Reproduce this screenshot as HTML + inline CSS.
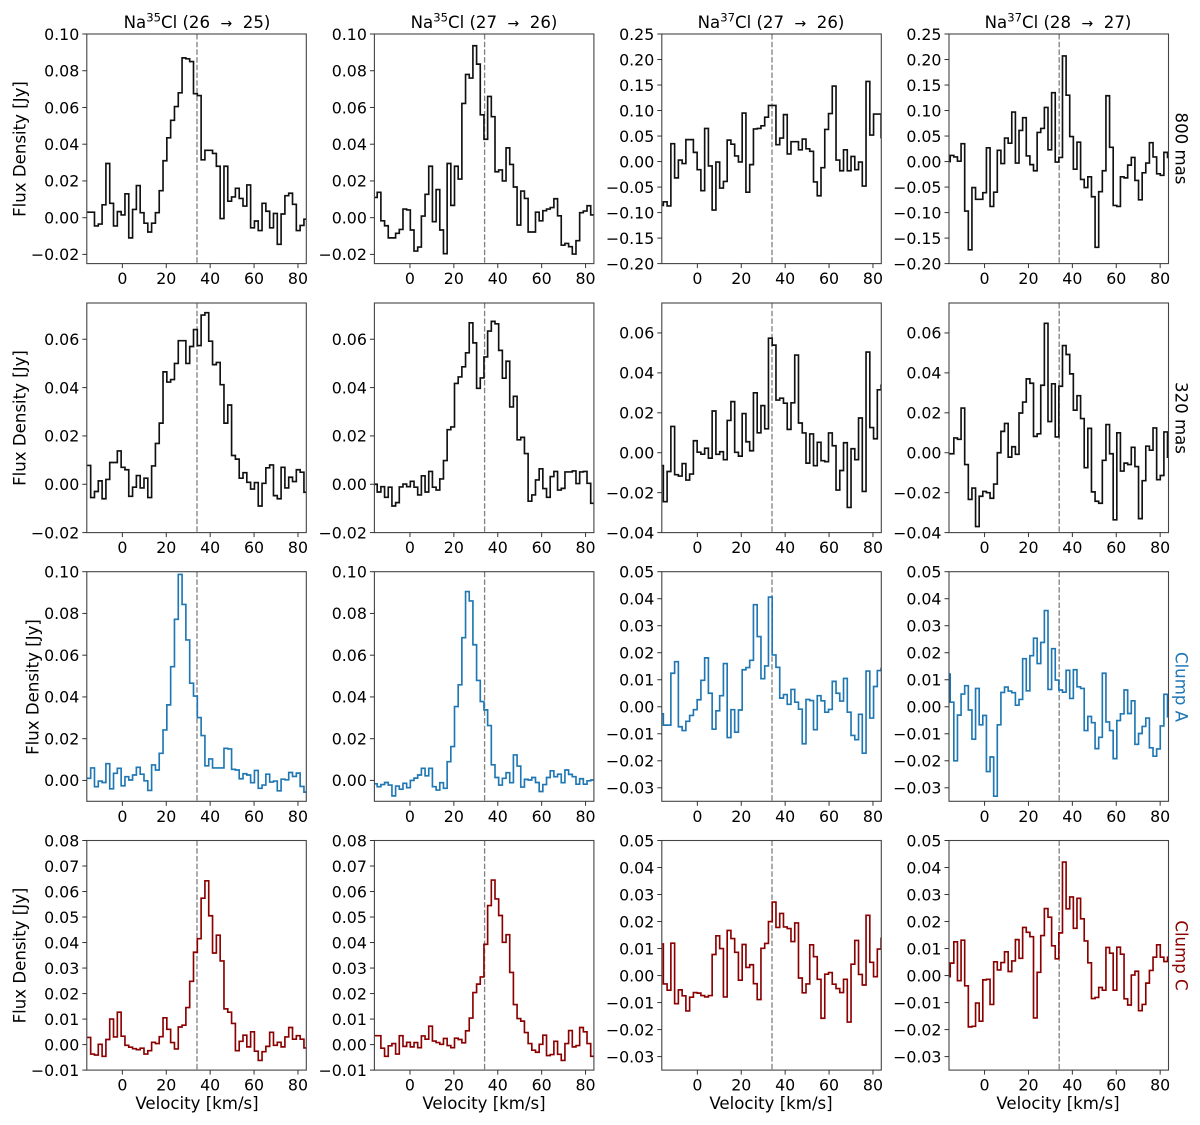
<!DOCTYPE html>
<html lang="en">
<head>
<meta charset="utf-8">
<title>NaCl line spectra</title>
<style>
html,body{margin:0;padding:0;background:#fff;}
svg{display:block;}
text{font-family:"DejaVu Sans","Liberation Sans",sans-serif;fill:#000;}
</style>
</head>
<body>
<svg id="chart" width="1200" height="1125" viewBox="0 0 1200 1125" xmlns="http://www.w3.org/2000/svg">
<rect x="0" y="0" width="1200" height="1125" fill="#fff"/>
<g id="panels"></g>
<g font-size="16.6" text-anchor="middle">
<text x="197" y="28">Na<tspan dy="-6.5" font-size="11.6">35</tspan><tspan dy="6.5">Cl (26</tspan><tspan font-size="14" dx="10.5">→</tspan><tspan dx="10.5">25)</tspan></text>
<text x="484" y="28">Na<tspan dy="-6.5" font-size="11.6">35</tspan><tspan dy="6.5">Cl (27</tspan><tspan font-size="14" dx="10.5">→</tspan><tspan dx="10.5">26)</tspan></text>
<text x="771" y="28">Na<tspan dy="-6.5" font-size="11.6">37</tspan><tspan dy="6.5">Cl (27</tspan><tspan font-size="14" dx="10.5">→</tspan><tspan dx="10.5">26)</tspan></text>
<text x="1058" y="28">Na<tspan dy="-6.5" font-size="11.6">37</tspan><tspan dy="6.5">Cl (28</tspan><tspan font-size="14" dx="10.5">→</tspan><tspan dx="10.5">27)</tspan></text>
</g>
<g font-size="16.6" text-anchor="middle">
<text transform="translate(25.5,149) rotate(-90)">Flux Density [Jy]</text>
<text transform="translate(25.5,418) rotate(-90)">Flux Density [Jy]</text>
<text transform="translate(38.5,687) rotate(-90)">Flux Density [Jy]</text>
<text transform="translate(25.5,955.5) rotate(-90)">Flux Density [Jy]</text>
</g>
<g font-size="16.6" text-anchor="middle">
<text x="197" y="1109">Velocity [km/s]</text>
<text x="484" y="1109">Velocity [km/s]</text>
<text x="771" y="1109">Velocity [km/s]</text>
<text x="1058" y="1109">Velocity [km/s]</text>
</g>
<g font-size="16.6" text-anchor="middle">
<text transform="translate(1175.5,148.5) rotate(90)">800 mas</text>
<text transform="translate(1175.5,418) rotate(90)">320 mas</text>
<text transform="translate(1175.5,687) rotate(90)" style="fill:#1f77b4">Clump A</text>
<text transform="translate(1175.5,955.5) rotate(90)" style="fill:#8b0000">Clump C</text>
</g>
</svg>
<script>
// Velocity channel grid per column (km/s)
const channelStart = [-16.17, -16.6, -17.2, -17.3];
const channelWidth = [1.735, 1.677, 1.71, 1.65];
const velocityTicks = [0, 20, 40, 60, 80];
const systemicVelocity = 34;
const velocityMin = -16.2;
const velocityMax = 83.8;

// Flux density per channel (Jy)
const fluxR1C1 = [.003,.003,-.0045,-.0035,.007,.0295,.0078,-.0045,.0033,.0015,.013,-.011,.0045,.0175,.0027,-.003,-.0078,-.003,.0027,.0147,.031,.0435,.053,.0605,.068,.087,.0865,.085,.0675,.0665,.0315,.0367,.0367,.035,.028,-.0005,.028,.009,.0113,.016,.0105,.0063,.0178,-.0055,-.0018,-.007,.0078,.0035,-.0055,.0023,-.0145,.002,.012,.0133,.0073,-.007,-.0042,-.0008];
const fluxR1C2 = [.011,.0138,-.0017,-.0044,-.011,-.011,-.0085,-.0064,.0047,.0042,-.0067,-.0182,-.016,.0009,.0127,.028,-.0022,.0153,-.0067,-.0196,.0295,.0067,.028,.021,.0622,.078,.076,.0936,.0836,.056,.0427,.066,.055,.025,.026,.02,.038,.029,.0167,-.004,.0145,.0105,-.0078,-.0078,.003,-.0017,.0038,.0047,.0055,.0103,.001,-.015,-.014,-.0158,-.0198,-.0125,.0027,.0036,.0065,.0015];
const fluxR1C3 = [-.086,-.079,-.087,.035,-.032,.003,-.004,.043,.043,.018,-.016,-.057,.065,-.0085,-.095,-.001,-.052,-.039,.042,.034,.011,-.0007,.095,-.06,-.006,.064,.065,.07,.087,.11,.11,.033,.046,.092,.015,.039,.039,.023,.044,.025,.02,-.04,-.067,-.012,.063,.094,.148,.003,-.018,.023,-.018,.01,-.016,-.001,-.048,.157,.052,.093,.093,.047];
const fluxR1C4 = [0,.012,.009,.0007,.035,-.097,-.173,-.051,-.074,-.074,-.061,.027,-.088,-.06,.022,-.004,.046,.036,.097,-.003,.061,.086,.011,-.006,-.018,.057,.065,.106,.023,.135,-.001,.008,.207,.13,.049,-.015,.038,-.035,-.051,-.03,-.069,-.168,-.059,-.018,.129,.028,-.086,-.088,-.03,-.032,-.007,.008,-.037,-.075,-.022,-.003,.037,.009,-.024,-.027,.018,.008];
const fluxR2C1 = [.0078,-.0055,-.003,.0014,-.006,.002,.009,.009,.0138,.007,.006,-.005,-.0012,.0036,-.0015,.0025,-.0055,.0076,.0169,.0253,.0465,.0423,.0433,.05,.0594,.0594,.05,.057,.064,.0574,.07,.071,.0592,.0495,.0504,.0412,.0253,.0328,.0119,.0104,.0025,.0048,.0008,-.002,.0007,-.009,.0004,.0068,.008,-.0047,-.006,.007,-.0015,.0029,.0011,.006,.005,-.0033];
const fluxR2C2 = [0,-.0032,-.001,-.0054,-.0012,-.009,-.0076,-.0011,.0001,-.001,.0012,-.0012,-.0044,.0035,-.0032,.0053,-.0012,-.0024,.0022,.0098,.0226,.0237,.0417,.0444,.0486,.0544,.0668,.0585,.0397,.044,.0527,.0634,.0674,.0664,.0554,.0439,.0509,.032,.0364,.0184,.0194,.0127,-.007,-.0044,.0018,.0064,-.0018,-.0054,.0032,.0053,-.0024,-.0017,.0051,.0051,.0055,.0003,.0051,.0053,.0004,-.0079,-.011];
const fluxR2C3 = [-.0064,-.0245,-.0094,.0132,-.011,-.0117,-.0054,-.0137,-.0107,.006,.0003,-.0007,.0023,-.0027,.0209,-.0008,.0005,-.0035,.0162,.0256,.0002,-.0017,.0196,.0055,.001,.03,.01,.0236,.012,.0574,.0539,.0264,.0273,.0248,.0117,.025,.0489,.0149,.0099,-.0052,.0094,-.0065,.0052,-.004,-.0045,.0099,.0035,-.0187,-.0089,.005,-.0274,.002,-.0035,.0174,-.0194,.0504,.0126,.007,.0315,.0338];
const fluxR2C4 = [-.0005,-.0005,.0074,.0067,.0224,-.0059,-.0234,-.0177,-.037,-.0218,-.0194,-.02,-.0228,-.0157,0,.0107,.0147,-.0022,.003,-.0008,.0199,.0254,.037,.0348,.0082,.0095,.0338,.0648,.0156,.0345,.0079,.0333,.0537,.0492,.0395,.0213,.0286,.0171,-.0075,.0122,-.0196,-.0243,-.0253,-.0038,.0141,-.0005,-.0336,.01,-.0092,-.0052,-.0059,.0027,-.0069,-.033,-.014,.0033,.0013,.0124,-.0135,-.0114,.0104,-.0022];
const fluxR3C1 = [.001,.006,-.003,-.0003,-.001,.008,-.004,.0034,.0058,-.0026,.0018,.0002,.0026,.0063,.003,-.0002,-.0048,.0074,.005,.013,.0242,.0362,.0545,.0772,.0987,.0843,.0673,.0466,.0404,.0301,.0215,.007,.0103,.006,.006,.006,.0154,.0151,.0053,.005,.0008,.0032,.0026,-.0011,.0048,-.0038,-.0022,.003,-.0008,-.0003,-.005,.0006,.0003,.0038,.0019,.0035,-.0029,-.0056];
const fluxR3C2 = [-.0016,-.003,-.002,-.001,-.0022,-.0074,-.0027,-.0042,-.0014,-.0035,0,.0011,.0026,.0058,.0022,.0058,-.003,-.0046,-.0011,-.0038,.009,.0162,.0354,.0458,.0684,.0905,.086,.065,.0479,.0378,.0338,.0263,.0075,.0014,-.0022,.001,.0037,-.0011,.0122,.0069,-.0032,.0005,.0002,.0014,-.001,-.0053,-.002,.0014,.0046,.0018,.003,-.0011,.005,.0029,.0018,-.0018,.0008,-.0018,-.0002,.0002];
const fluxR3C3 = [-.0026,-.0068,-.0068,.0124,.0167,-.0074,-.0088,-.0054,-.0032,-.0011,.0026,.0098,.0181,.005,-.0083,-.0015,.0041,.016,-.0114,-.0011,-.0094,-.0012,.0137,.0145,.0172,.0378,.026,.0104,.0151,.0406,.0192,.0146,.0032,.0045,.0009,.0064,.0017,-.0009,-.0137,.0027,.0023,-.0085,.0041,.0022,-.002,-.001,.0094,.005,.0021,.0105,-.002,-.0106,-.0122,-.0028,-.0172,.0132,-.0042,.0075,.0134,.0142];
const fluxR3C4 = [.0121,.0017,-.02,-.0031,.0047,.0078,-.0012,-.012,.0068,-.0067,-.0032,-.024,-.0186,-.0331,-.0067,.0053,.0073,.0058,.0052,.0006,.0027,.0178,.0059,.0189,.0254,.016,.0238,.0356,.0064,.0215,.0099,.0062,.0054,.0135,.0031,.0137,.0074,.0068,-.0088,-.0036,-.0059,-.0155,-.0113,.0124,-.0056,-.0088,-.0192,-.0051,-.0026,.0062,-.0025,.0022,-.0139,-.0099,-.0073,-.0042,-.0152,-.0183,-.0156,-.0071,.0046,-.0037];
const fluxR4C1 = [.0028,-.0037,-.0041,.0001,-.0046,.002,.01,.003,.0127,.0033,-.0003,-.001,-.0016,-.002,-.0014,-.0037,-.0024,.0009,.0004,.0031,.0105,.006,.0008,-.0017,.0069,.0076,.0145,.0248,.0362,.0415,.0574,.0642,.0505,.0359,.0429,.0328,.014,.0127,.0083,-.0024,.0013,.0037,-.0009,.005,-.0026,-.0062,-.0028,-.0007,.0048,-.0003,.0009,-.0009,.003,.0067,.0021,.0035,.0021,-.0013];
const fluxR4C2 = [.0035,.0035,-.0014,-.0046,-.0005,.0004,-.0037,.0035,-.0007,.0009,-.0009,.0008,-.0012,.0034,.0021,.0072,.0014,.0008,.0001,.0024,-.0004,-.0012,.0025,.002,.0007,.0054,.0104,.0204,.0237,.0265,.0393,.0545,.0645,.0571,.0506,.0401,.0431,.0283,.0157,.0102,.0092,.0047,.0004,-.0022,-.003,.0001,.0037,-.0043,-.0039,.0013,-.0038,-.0062,.0004,.0055,-.0009,-.0004,.0067,.005,.0004,-.0046];
const fluxR4C3 = [.0117,-.0031,-.0054,.012,-.0104,-.0053,-.0075,-.0131,-.008,-.0063,-.0065,-.0074,-.0079,-.0074,.0078,.0147,.01,-.0079,.0167,.0137,.0086,-.0017,.0115,.003,.004,-.003,-.0089,.0101,.0119,.02,.0272,.0178,.023,.018,.0174,.0126,.0195,-.0009,-.0064,-.0031,.0114,.007,-.0014,-.0158,.0005,.0011,-.0032,-.0048,-.0063,-.0014,-.0172,.0042,.013,.0004,-.0035,.0223,.0049,-.0004,.0098,.0138];
const fluxR4C4 = [-.0004,.0046,.0125,-.0019,.0131,-.0038,-.019,-.0188,-.0102,-.0169,-.0016,-.0014,-.0107,.0051,.0021,.0048,.0088,.0015,.0054,.0133,.0064,.0178,.016,.0144,-.0157,.0012,.0148,.0248,.0216,.011,.0062,.0158,.042,.0247,.0291,.0175,.0286,.021,.0128,.0047,-.0085,-.0081,-.0044,-.0054,.0104,.0083,-.0054,.0105,.0079,-.0086,-.0109,.0002,.0016,-.013,-.0107,-.0028,.0019,.0068,.0114,.0068,.0052,.0068];

// Y-axis limits [min, max] per row / column pair
const yLimitsWide = [[-.025,.1],[-.02,.075],[-.01,.1],[-.01,.08]];
const yLimitsNarrow = [[-.2,.25],[-.04,.075],[-.035,.05],[-.035,.05]];

// Y-axis tick values
const yTicksR1Wide = [-.02,0,.02,.04,.06,.08,.1];
const yTicksR1Narrow = [-.2,-.15,-.1,-.05,0,.05,.1,.15,.2,.25];
const yTicksR2Wide = [-.02,0,.02,.04,.06];
const yTicksR2Narrow = [-.04,-.02,0,.02,.04,.06];
const yTicksR3Wide = [0,.02,.04,.06,.08,.1];
const yTicksR3Narrow = [-.03,-.02,-.01,0,.01,.02,.03,.04,.05];
const yTicksR4Wide = [-.01,0,.01,.02,.03,.04,.05,.06,.07,.08];
const yTicksR4Narrow = [-.03,-.02,-.01,0,.01,.02,.03,.04,.05];

const rowSeries = [
  [fluxR1C1, fluxR1C2, fluxR1C3, fluxR1C4],
  [fluxR2C1, fluxR2C2, fluxR2C3, fluxR2C4],
  [fluxR3C1, fluxR3C2, fluxR3C3, fluxR3C4],
  [fluxR4C1, fluxR4C2, fluxR4C3, fluxR4C4]
];
const rowTicksWide = [yTicksR1Wide, yTicksR2Wide, yTicksR3Wide, yTicksR4Wide];
const rowTicksNarrow = [yTicksR1Narrow, yTicksR2Narrow, yTicksR3Narrow, yTicksR4Narrow];

// Layout
const colLeft = [86.8, 374.4, 661.8, 949];
const rowTop = [34, 303, 571.7, 840.5];
const panelW = 219.5;
const panelH = 229.6;
const rowColor = ['#111', '#111', '#1f77b4', '#8b0000'];
const SVG_NS = 'http://www.w3.org/2000/svg';
const root = document.getElementById('panels');

function make(tag, attrs, parent) {
  const el = document.createElementNS(SVG_NS, tag);
  for (const k in attrs) el.setAttribute(k, attrs[k]);
  parent.appendChild(el);
  return el;
}
function fmt(v) {
  return v.toFixed(2).replace('-', '\u2212');
}

rowSeries.forEach(function (cols, r) {
  cols.forEach(function (flux, c) {
    const left = colLeft[c], top = rowTop[r];
    const lim = c < 2 ? yLimitsWide[r] : yLimitsNarrow[r];
    const yTicks = c < 2 ? rowTicksWide[r] : rowTicksNarrow[r];
    const xScale = function (v) { return left + (v - velocityMin) / (velocityMax - velocityMin) * panelW; };
    const yScale = function (f) { return top + (lim[1] - f) / (lim[1] - lim[0]) * panelH; };
    const tag = 'r' + (r + 1) + 'c' + (c + 1);

    const g = make('g', {}, root);
    
    

    const clip = make('clipPath', { id: 'clip-' + tag }, g);
    make('rect', { x: left, y: top, width: panelW, height: panelH }, clip);

    const sysLine = make('line', {
      x1: xScale(systemicVelocity), x2: xScale(systemicVelocity), y1: top, y2: top + panelH,
      stroke: '#808080', 'stroke-width': 1.3, 'stroke-dasharray': '5.5,2.2'
    }, g);
    
    

    let d = '';
    flux.forEach(function (f, i) {
      const x0 = xScale(channelStart[c] + i * channelWidth[c]);
      const x1 = xScale(channelStart[c] + (i + 1) * channelWidth[c]);
      const y = yScale(f);
      d += (i === 0 ? 'M' : 'L') + x0.toFixed(2) + ' ' + y.toFixed(2) + 'L' + x1.toFixed(2) + ' ' + y.toFixed(2);
    });
    const line = make('path', {
      d: d, fill: 'none', stroke: rowColor[r], 'stroke-width': 1.65,
      'stroke-linejoin': 'miter', 'clip-path': 'url(#clip-' + tag + ')'
    }, g);
    
    

    const frame = make('rect', {
      x: left, y: top, width: panelW, height: panelH, fill: 'none', stroke: '#444', 'stroke-width': 1.1
    }, g);
    
    

    velocityTicks.forEach(function (v) {
      const x = xScale(v);
      const tick = make('line', { x1: x, x2: x, y1: top + panelH, y2: top + panelH + 4.5, stroke: '#333', 'stroke-width': 1 }, g);
      
      
      const label = make('text', { x: x, y: top + panelH + 20.5, 'font-size': 15.8, 'text-anchor': 'middle' }, g);
      label.textContent = String(v);
      
      
    });

    yTicks.forEach(function (f) {
      const y = yScale(f);
      const tick = make('line', { x1: left - 4.5, x2: left, y1: y, y2: y, stroke: '#333', 'stroke-width': 1 }, g);
      
      
      const label = make('text', { x: left - 7.5, y: y + 5.8, 'font-size': 15.8, 'text-anchor': 'end' }, g);
      label.textContent = fmt(f);
      
      
    });
  });
});
</script>
</body>
</html>
